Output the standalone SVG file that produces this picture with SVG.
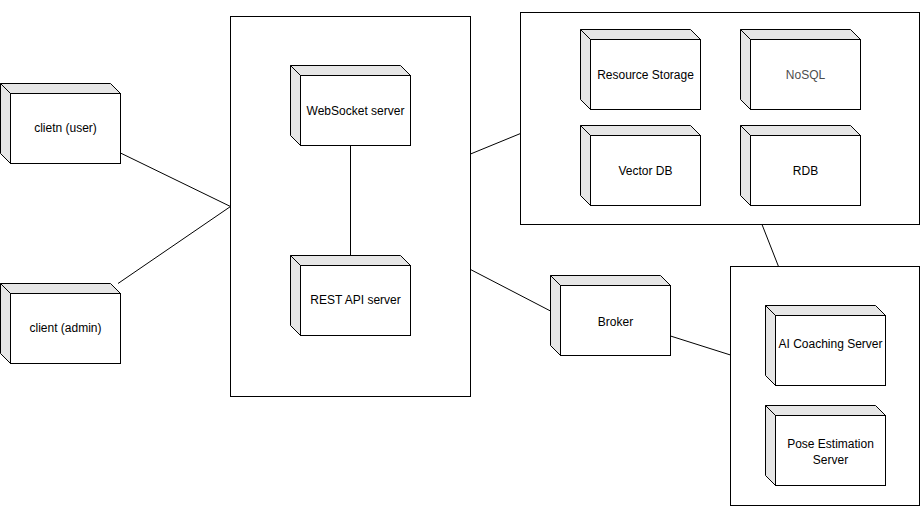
<svg xmlns="http://www.w3.org/2000/svg" xmlns:xlink="http://www.w3.org/1999/xlink" width="921" height="507" viewBox="0 0 921 507">
<style>
  .container { fill: #ffffff; stroke: #000000; stroke-width: 1; }
  .face { fill: #e6e6e6; stroke: #000000; stroke-width: 1; stroke-linejoin: miter; }
  .front { fill: #ffffff; stroke: #000000; stroke-width: 1; }
  .label { font-family: "Liberation Sans", Arial, Helvetica, sans-serif; font-size: 12px; fill: #000000; text-anchor: middle; }
  .muted { fill: #4d4d4d; }
  .conn { stroke: #000000; stroke-width: 1; fill: none; }
</style>
<defs>
  <g id="box">
    <path class="face" d="M0,0 L110,0 L120,10 L10,10 Z"/>
    <path class="face" d="M0,0 L10,10 L10,80 L0,70 Z"/>
    <rect class="front" x="10" y="10" width="110" height="70"/>
  </g>
</defs>
<rect width="921" height="507" fill="#ffffff"/>

<g id="container-main"><rect class="container" x="230.5" y="16.5" width="240" height="380"/></g>
<g id="container-storage"><rect class="container" x="520.5" y="12.5" width="399" height="212"/></g>
<g id="container-ai"><rect class="container" x="730.5" y="266.5" width="189" height="239"/></g>

<g id="connectors">
  <line class="conn" x1="120.5" y1="153" x2="230.5" y2="206.5"/>
  <line class="conn" x1="118" y1="283.5" x2="230.5" y2="206.5"/>
  <line class="conn" x1="350.5" y1="146" x2="350.5" y2="255.5"/>
  <line class="conn" x1="470.5" y1="154" x2="520.5" y2="133.5"/>
  <line class="conn" x1="470.5" y1="269.5" x2="550.5" y2="311"/>
  <line class="conn" x1="670.5" y1="336" x2="730.5" y2="355"/>
  <line class="conn" x1="762" y1="224.5" x2="778.5" y2="266.5"/>
</g>

<g id="node-client-user">
  <use xlink:href="#box" href="#box" x="0.5" y="83.5"/>
  <text class="label" x="65.5" y="132">clietn (user)</text>
</g>
<g id="node-client-admin">
  <use xlink:href="#box" href="#box" x="0.5" y="283.5"/>
  <text class="label" x="65.5" y="332">client (admin)</text>
</g>
<g id="node-websocket">
  <use xlink:href="#box" href="#box" x="290.5" y="65.5"/>
  <text class="label" x="355.5" y="114.5">WebSocket server</text>
</g>
<g id="node-rest">
  <use xlink:href="#box" href="#box" x="290.5" y="255.5"/>
  <text class="label" x="355.5" y="303.5">REST API server</text>
</g>
<g id="node-resource-storage">
  <use xlink:href="#box" href="#box" x="580.5" y="29.5"/>
  <text class="label" x="645.5" y="79">Resource Storage</text>
</g>
<g id="node-nosql">
  <use xlink:href="#box" href="#box" x="740.5" y="29.5"/>
  <text class="label muted" x="805.5" y="79">NoSQL</text>
</g>
<g id="node-vector-db">
  <use xlink:href="#box" href="#box" x="580.5" y="125.5"/>
  <text class="label" x="645.5" y="175">Vector DB</text>
</g>
<g id="node-rdb">
  <use xlink:href="#box" href="#box" x="740.5" y="125.5"/>
  <text class="label" x="805.5" y="175">RDB</text>
</g>
<g id="node-broker">
  <use xlink:href="#box" href="#box" x="550.5" y="275.5"/>
  <text class="label" x="615.5" y="325.5">Broker</text>
</g>
<g id="node-ai-coaching">
  <use xlink:href="#box" href="#box" x="765.5" y="305.5"/>
  <text class="label" x="830.5" y="347.5">AI Coaching Server</text>
</g>
<g id="node-pose-estimation">
  <use xlink:href="#box" href="#box" x="765.5" y="405.5"/>
  <text class="label" x="830.5" y="447.5">Pose Estimation</text>
  <text class="label" x="830.5" y="463.5">Server</text>
</g>
</svg>
